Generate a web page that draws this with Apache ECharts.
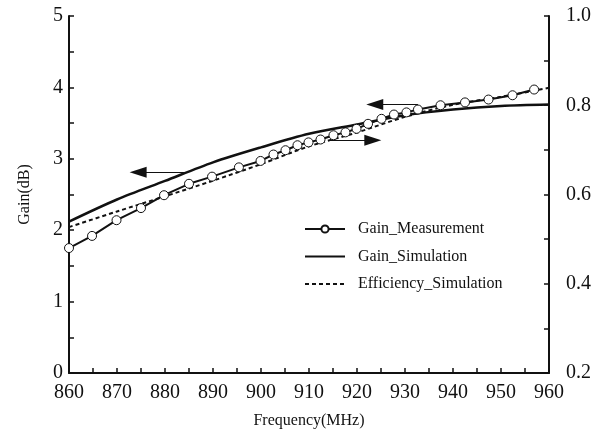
<!DOCTYPE html>
<html>
<head>
<meta charset="utf-8">
<script src="https://cdn.jsdelivr.net/npm/echarts@6/dist/echarts.min.js"></script>
<style>
  html, body { margin: 0; padding: 0; background: #fff; }
  #chart { width: 604px; height: 435px; }
</style>
</head>
<body>
<div id="chart"></div>
<script>
// measured gain (dB) vs frequency (MHz)
const freqMeas = [860, 864.8, 869.9, 875, 879.8, 885, 889.8, 895.4, 899.9, 902.6, 905.1, 907.6, 909.9,
                  912.4, 915.1, 917.6, 919.9, 922.3, 925.1, 927.7, 930.3, 932.7, 937.4, 942.5, 947.4, 952.4, 956.9];
const gainMeas = [1.75, 1.92, 2.14, 2.31, 2.49, 2.65, 2.75, 2.88, 2.97, 3.06, 3.12, 3.19, 3.23,
                  3.27, 3.33, 3.37, 3.42, 3.49, 3.56, 3.62, 3.65, 3.69, 3.75, 3.79, 3.83, 3.89, 3.97];
// simulated curves
const freqSim = [860, 870, 880, 890, 900, 910, 920, 930, 940, 950, 960];
const gainSim = [2.12, 2.43, 2.69, 2.95, 3.16, 3.35, 3.48, 3.61, 3.69, 3.74, 3.76];
const effSim  = [0.527, 0.562, 0.596, 0.631, 0.668, 0.708, 0.739, 0.774, 0.801, 0.819, 0.839];
// annotation arrows [fromFreq, toFreq, gainLevel]
const arrows = [[884.5, 874.4, 2.81], [914.3, 923.3, 3.26], [932.7, 923.7, 3.76]];

const serif = '"Liberation Serif", "Times New Roman", serif';
const ink = '#111';

const zip = (xs, ys) => xs.map((x, i) => [x, ys[i]]);

const chart = echarts.init(document.getElementById('chart'));
chart.setOption({
    animation: false,
    grid: { left: 69, right: 55, top: 16, bottom: 62 },
    legend: {
        orient: 'vertical',
        left: 299,
        top: 216,
        itemWidth: 40,
        itemHeight: 9,
        itemGap: 11.5,
        textStyle: { fontFamily: serif, fontSize: 16, color: ink, padding: [0, 0, 0, 8] },
        data: [
            { name: 'Gain_Measurement' },
            { name: 'Gain_Simulation', itemStyle: { opacity: 0 } },
            { name: 'Efficiency_Simulation', itemStyle: { opacity: 0 } }
        ]
    },
    xAxis: {
        type: 'value',
        min: 860, max: 960, interval: 10,
        name: 'Frequency(MHz)',
        nameLocation: 'middle',
        nameGap: 40,
        nameTextStyle: { fontFamily: serif, fontSize: 16, color: ink },
        axisLine: { lineStyle: { color: ink, width: 2 } },
        axisTick: { inside: true, length: 5, lineStyle: { width: 1.5 } },
        minorTick: { show: true, splitNumber: 2, length: 5, lineStyle: { color: ink, width: 1.5 } },
        axisLabel: { fontFamily: serif, fontSize: 20, color: ink, margin: 10 },
        splitLine: { show: false }
    },
    yAxis: [
        {
            type: 'value',
            min: 0, max: 5, interval: 1,
            name: 'Gain(dB)',
            nameLocation: 'middle',
            nameGap: 36,
            nameTextStyle: { fontFamily: serif, fontSize: 16, color: ink },
            axisLine: { show: true, lineStyle: { color: ink, width: 2 } },
            axisTick: { show: true, inside: true, length: 5, lineStyle: { width: 1.5 } },
            minorTick: { show: true, splitNumber: 2, length: 5, lineStyle: { color: ink, width: 1.5 } },
            axisLabel: { fontFamily: serif, fontSize: 20, color: ink, margin: 6 },
            splitLine: { show: false }
        },
        {
            type: 'value',
            min: 0.2, max: 1.0, interval: 0.2,
            position: 'right',
            axisLine: { show: true, lineStyle: { color: ink, width: 2 } },
            axisTick: { show: true, inside: true, length: 5, lineStyle: { width: 1.5 } },
            minorTick: { show: true, splitNumber: 2, length: 5, lineStyle: { color: ink, width: 1.5 } },
            axisLabel: {
                fontFamily: serif, fontSize: 20, color: ink, margin: 17,
                formatter: v => v.toFixed(1)
            },
            splitLine: { show: false }
        }
    ],
    series: [
        {
            name: 'Gain_Measurement',
            type: 'line',
            data: zip(freqMeas, gainMeas),
            symbol: 'circle',
            symbolSize: 9,
            itemStyle: { color: '#fff', borderColor: ink, borderWidth: 1 },
            lineStyle: { color: ink, width: 2 },
            z: 3
        },
        {
            name: 'Gain_Simulation',
            type: 'line',
            data: zip(freqSim, gainSim),
            smooth: 0.3,
            showSymbol: false,
            symbol: 'none',
            itemStyle: { color: ink },
            lineStyle: { color: ink, width: 2.5 },
            markLine: {
                silent: true,
                symbol: ['none', 'triangle'],
                symbolSize: [11, 17],
                label: { show: false },
                lineStyle: { color: '#111', width: 1.1, type: 'solid' },
                data: arrows.map(a => [{ coord: [a[0], a[2]] }, { coord: [a[1], a[2]] }])
            }
        },
        {
            name: 'Efficiency_Simulation',
            type: 'line',
            yAxisIndex: 1,
            data: zip(freqSim, effSim),
            smooth: 0.3,
            showSymbol: false,
            symbol: 'none',
            itemStyle: { color: ink },
            lineStyle: { color: ink, width: 2, type: [4, 3] }
        }
    ]
});
</script>
</body>
</html>
